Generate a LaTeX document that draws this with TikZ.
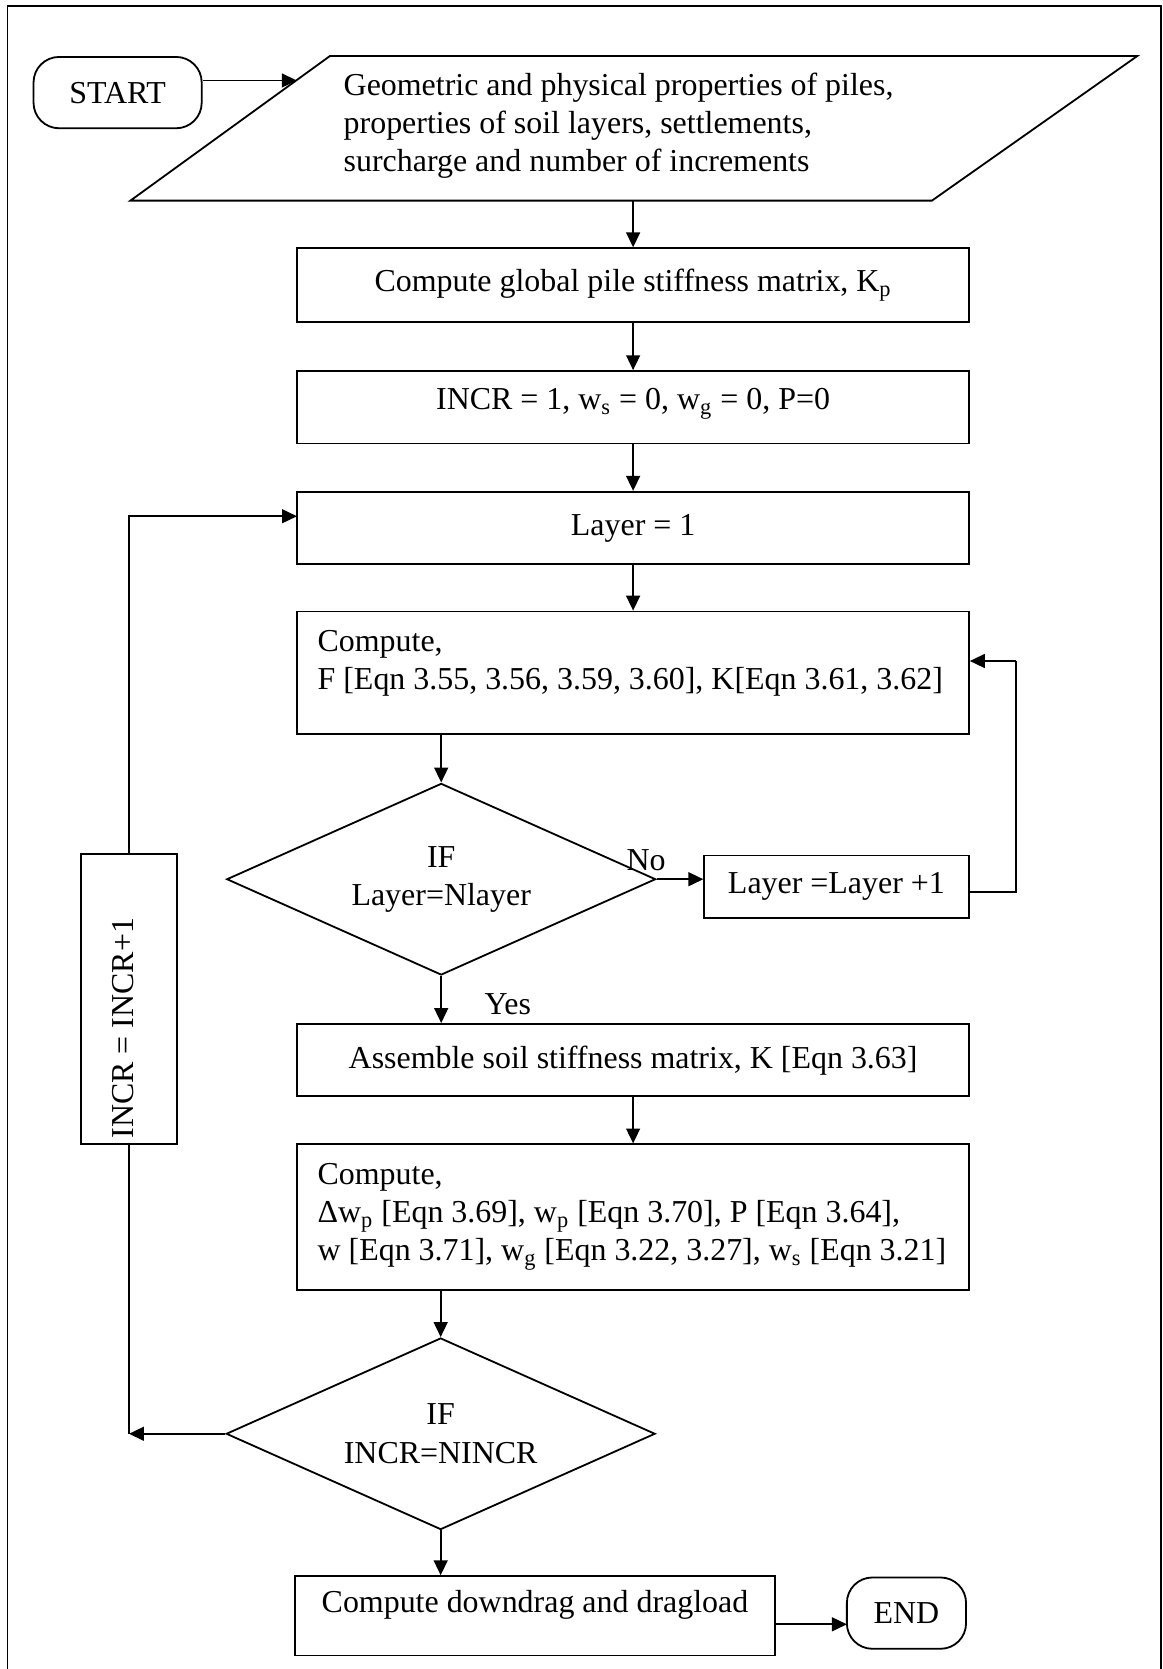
\documentclass[tikz,border=0pt]{standalone}
\usepackage{fontspec}
\setmainfont{Liberation Serif}
\usetikzlibrary{shapes.geometric,arrows.meta}
\begin{document}
\begin{tikzpicture}[x=0.5pt,y=-0.5pt,
  every node/.style={font=\fontsize{15}{18}\selectfont},
  box/.style={draw, line width=0.85pt, inner sep=0pt},
  term/.style={draw, line width=0.85pt, rounded corners=12pt, inner sep=0pt},
  dec/.style={draw, diamond, line width=0.85pt, aspect=2.24, inner sep=0pt, minimum width=201.5pt, minimum height=90pt, align=center},
  txt/.style={inner sep=0pt, align=left},
  arr/.style={line width=0.85pt, -{Triangle[length=7pt,width=6.5pt]}},
  ln/.style={line width=0.85pt},
]
\useasboundingbox (0,0) rectangle (1092,1568);
% frame
\draw[ln] (7,1568) -- (7,5.6) -- (1090.5,5.6) -- (1090.5,1568);

% start
\node[term, minimum width=79pt, minimum height=33.5pt] (start) at (110.5,87) {START};

% input parallelogram
\coordinate (pTL) at (310,52.6);
\coordinate (pTR) at (1068.5,52.6);
\coordinate (pBR) at (875.5,188.5);
\coordinate (pBL) at (122.5,188.5);
\draw[ln] (pTL) -- (pTR) -- (pBR) -- (pBL) -- cycle;
\node[txt, anchor=west] (inp) at (322.5,118) {Geometric and physical properties of piles,\\properties of soil layers, settlements,\\surcharge and number of increments};
\coordinate (inpL) at (278.8,75.6);
\coordinate (inpB) at (594.8,188.5);
\draw[arr] (start.east |- inpL) -- (inpL);

% main boxes
\node[box, minimum width=315.5pt, minimum height=34.8pt] (b2) at (594.8,268) {Compute global pile stiffness matrix, K\textsubscript{p}};
\node[box, minimum width=315.5pt, minimum height=34pt] (b3) at (594.8,382.6) {};
\node[inner sep=0pt] (b3t) at (594.8,379.5) {INCR = 1, w\textsubscript{s} = 0, w\textsubscript{g} = 0, P=0};
\node[box, minimum width=315.5pt, minimum height=34pt] (b4) at (594.8,496) {Layer = 1};
\node[box, minimum width=315.5pt, minimum height=57.5pt] (b5) at (594.8,632) {};
\node[txt, anchor=west] (b5t) at (298,623) {Compute,\\F [Eqn 3.55, 3.56, 3.59, 3.60], K[Eqn 3.61, 3.62]};
\node[dec] (d1) at (414.5,826) {IF\\Layer=Nlayer};
\node[box, minimum width=124.2pt, minimum height=29.2pt] (b6) at (785.8,833) {Layer =Layer +1};
\node[box, minimum width=45.4pt, minimum height=136pt] (incr) at (121.2,938.6) {};
\node[rotate=90, inner sep=0pt] (incrt) at (116,966) {INCR = INCR+1};
\node[box, minimum width=315.5pt, minimum height=34pt] (b7) at (594.8,996) {Assemble soil stiffness matrix, K [Eqn 3.63]};
\node[box, minimum width=315.5pt, minimum height=68.25pt] (b8) at (594.8,1143.3) {};
\node[txt, anchor=west] (b8t) at (298,1143) {Compute,\\Δw\textsubscript{p} [Eqn 3.69], w\textsubscript{p} [Eqn 3.70], P [Eqn 3.64],\\w [Eqn 3.71], w\textsubscript{g} [Eqn 3.22, 3.27], w\textsubscript{s} [Eqn 3.21]};
\node[dec] (d2) at (414,1347) {IF\\INCR=NINCR};
\node[box, minimum width=225.35pt, minimum height=37.25pt] (b9) at (502.6,1518) {};
\node[inner sep=0pt] (b9t) at (502.6,1508) {Compute downdrag and dragload};
\node[term, minimum width=56pt, minimum height=33.5pt] (end) at (851.6,1515.5) {END};

% labels
\node[inner sep=0pt] (no) at (607,808) {No};
\node[inner sep=0pt] (yes) at (477,943) {Yes};

% connectors
\draw[arr] (inpB) -- (b2.north);
\draw[arr] (b2.south) -- (b3.north);
\draw[arr] (b3.south) -- (b4.north);
\draw[arr] (b4.south) -- (b5.north);
\draw[arr] (b5.south -| d1.north) -- (d1.north);
\draw[arr] (d1.east) -- (b6.west |- d1.east);
\coordinate (fb) at (954.8,621);
\draw[ln] (b6.east |- 0,838) -| (fb);
\draw[arr] (fb) -- (b5.east |- fb);
\draw[arr] (d1.south) -- (b7.north -| d1.south);
\draw[arr] (b7.south) -- (b8.north);
\draw[arr] (b8.south -| d2.north) -- (d2.north);
\coordinate (lc) at (121.2,1347);
\draw[arr] (d2.west) -- (lc);
\draw[ln] (lc) -- (incr.south);
\coordinate (b4in) at (279,485);
\draw[arr] (incr.north) |- (b4in);
\draw[arr] (d2.south) -- (b9.north -| d2.south);
\coordinate (endin) at (795.6,1526);
\draw[arr] (b9.east |- endin) -- (endin);
\end{tikzpicture}
\end{document}
